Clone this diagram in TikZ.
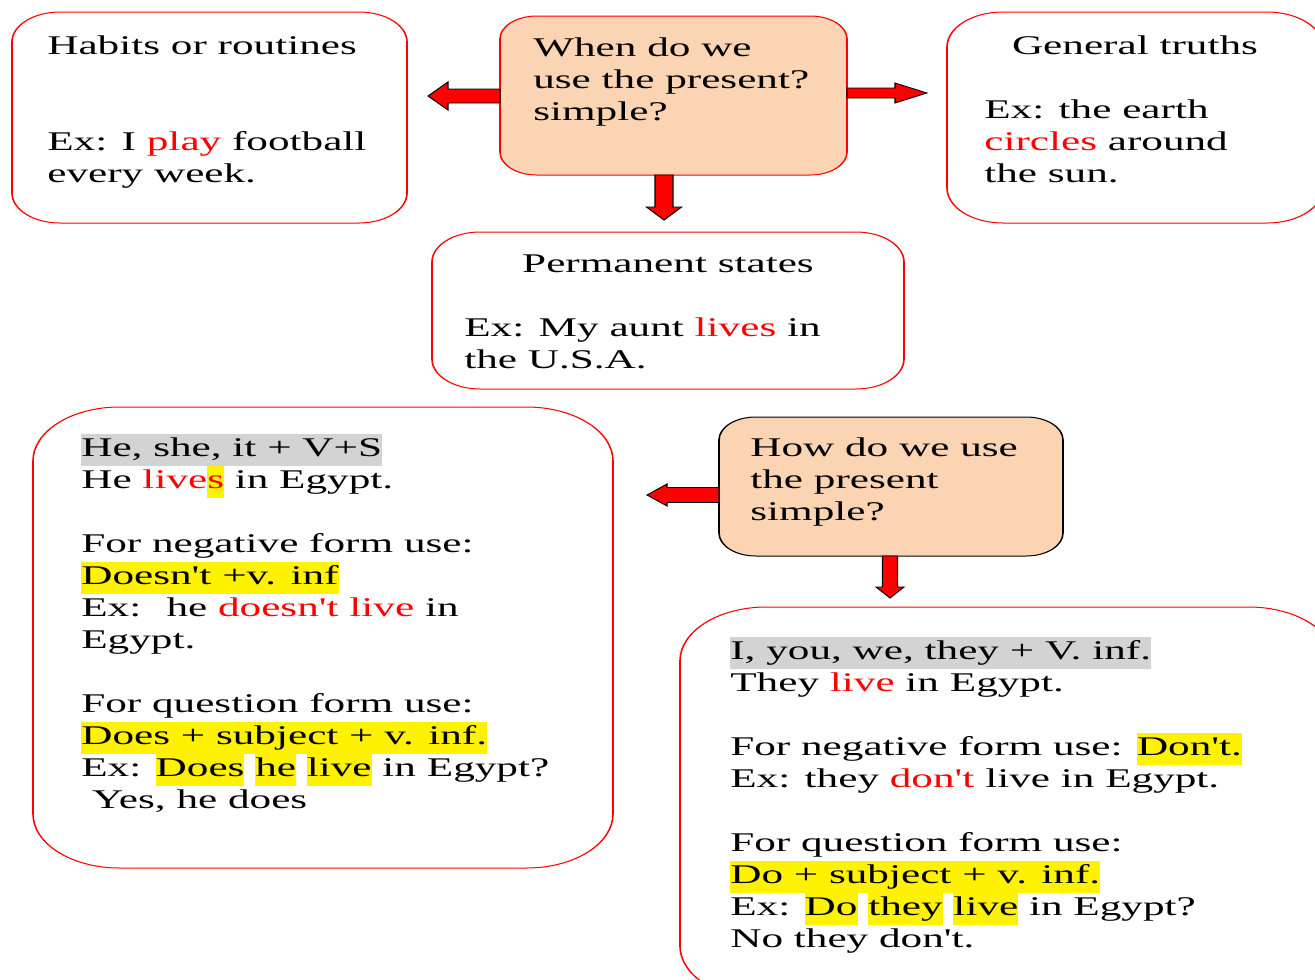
\documentclass[tikz,border=0pt]{standalone}
\usepackage{fontspec}
\setmainfont{Liberation Serif}[Ligatures=TeXOff]
\usetikzlibrary{calc}
\definecolor{peach}{HTML}{FBD4B4}
\definecolor{hlgray}{HTML}{D3D3D3}
\setlength{\fboxsep}{0pt}
\newcommand\rd[1]{\textcolor{red}{#1}}
\newcommand\hly[1]{\colorbox{yellow}{\strut #1}}
\newcommand\hlg[1]{\colorbox{hlgray}{\strut #1}}
% block arrow: start, tip, half shaft, half head, head length
\newcommand\blockarrow[5]{%
  \path (#2) coordinate (ba-t) ($(#2)!#5!(#1)$) coordinate (ba-h);
  \draw[arrowfill] ($(#1)!#3!90:(#2)$) -- ($(ba-h)!#3!90:(ba-t)$) -- ($(ba-h)!#4!90:(ba-t)$)
    -- (ba-t) -- ($(ba-h)!#4!-90:(ba-t)$) -- ($(ba-h)!#3!-90:(ba-t)$) -- ($(#1)!#3!-90:(#2)$) -- cycle;}

\begin{document}
\begin{tikzpicture}
  \tikzset{box/.style = {draw=red, line width=1pt, fill=white, outer sep=0pt, inner sep=0pt}}
  \tikzset{qbox/.style = {box, fill=peach}}
  \tikzset{txt/.style = {anchor=north west, inner sep=0pt, align=left, font=\fontsize{27}{32}\selectfont}}
  \tikzset{head/.style = {txt, anchor=north}}
  \tikzset{arrowfill/.style = {draw=black, fill=red, line width=0.8pt, line join=miter}}

\clip (0pt,0pt) rectangle (1315pt,-980pt);
\begin{scope}[transform canvas={xscale=1.6}, x=0.625pt, y=-1pt]

\node[box, minimum width=246.9pt, minimum height=211pt, rounded corners=30pt] (habits) at (209.5,117.5) {};
\node[qbox, minimum width=216.9pt, minimum height=159pt, rounded corners=23pt] (when) at (673.5,95.5) {};
\node[box, minimum width=235pt, minimum height=211pt, rounded corners=35pt] (truths) at (1135,117.5) {};
\node[box, minimum width=295pt, minimum height=157pt, rounded corners=30pt] (perm) at (668,310.5) {};
\node[box, minimum width=362.5pt, minimum height=461pt, rounded corners=54pt] (he) at (323,637.5) {};
\node[qbox, draw=black, minimum width=215pt, minimum height=139pt, rounded corners=23pt] (how) at (891,486.5) {};
\node[box, minimum width=409.4pt, minimum height=393pt, rounded corners=54pt] (they) at (1007.5,803.5) {};

\node[txt] (habits-t) at (47,32) {\strut Habits or routines\\ ~\\ ~\\
  Ex: I \rd{play} football\\ every week.};
\node[txt] (when-t) at (533,34) {\strut When do we\\ use the present?\\ simple?};
\node[head] (truths-h) at (1135,32) {\strut General truths};
\node[txt] (truths-t) at (984,96) {\strut Ex: the earth\\ \rd{circles} around\\ the sun.};
\node[head] (perm-h) at (668,250) {\strut Permanent states};
\node[txt] (perm-t) at (464,314) {\strut Ex: My aunt \rd{lives} in\\ the U.S.A.};
\node[txt] (he-t) at (81,434) {\strut\hlg{He, she, it + V+S}\\
  He \rd{live}\hly{\rd{s}} in Egypt.\\ ~\\
  For negative form use:\\
  \hly{Doesn't +v. inf}\\
  Ex: \ he \rd{doesn't live} in\\
  Egypt.\\ ~\\
  For question form use:\\
  \hly{Does + subject + v. inf.}\\
  Ex: \hly{Does} \hly{he} \hly{live} in Egypt?\\
  \ Yes, he does};
\node[txt] (how-t) at (750,434) {\strut How do we use\\ the present\\ simple?};
\node[txt] (they-t) at (730,637) {\strut\hlg{I, you, we, they + V. inf.}\\
  They \rd{live} in Egypt.\\ ~\\
  For negative form use: \hly{Don't.}\\
  Ex: they \rd{don't} live in Egypt.\\ ~\\
  For question form use:\\
  \hly{Do + subject + v. inf.}\\
  Ex: \hly{Do} \hly{they} \hly{live} in Egypt?\\
  No they don't.};

\coordinate (whenL) at (428,96);
\coordinate (whenR) at (927,93);
\coordinate (whenD) at (664,220);
\coordinate (howL) at (647,495);
\coordinate (howD) at (890,598);
\coordinate (whenLs) at (when.west |- whenL);
\coordinate (whenRs) at (when.east |- whenR);
\coordinate (whenDs) at (when.south -| whenD);
\coordinate (howLs) at (how.west |- howL);
\coordinate (howDs) at (how.south -| howD);

\blockarrow{whenLs}{whenL}{7pt}{14pt}{12.5pt}
\blockarrow{whenRs}{whenR}{5pt}{10pt}{20pt}
\blockarrow{whenDs}{whenD}{5.6pt}{11pt}{13pt}
\blockarrow{howLs}{howL}{7.5pt}{11pt}{12.5pt}
\blockarrow{howDs}{howD}{4.7pt}{8.75pt}{11pt}

\end{scope}
\end{tikzpicture}
\end{document}
